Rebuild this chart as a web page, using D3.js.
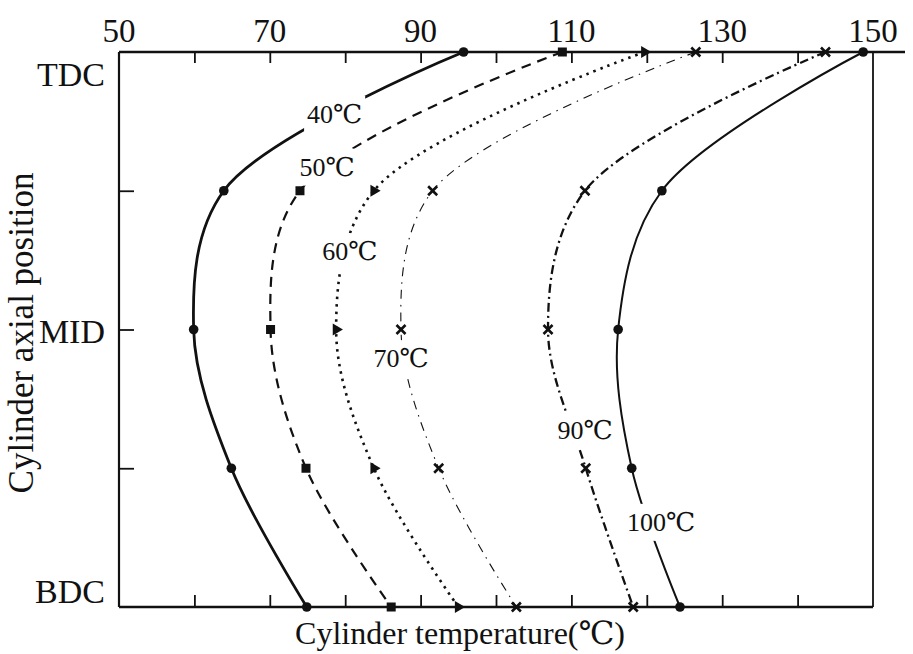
<!DOCTYPE html>
<html>
<head>
<meta charset="utf-8">
<title>Cylinder temperature</title>
<script src="https://d3js.org/d3.v7.min.js"></script>
<style>
    body { margin: 0; background: #fff; }
    text { font-family: "Liberation Serif", "DejaVu Serif", serif; fill: #111; }
</style>
</head>
<body>
<div id="chart"></div>
<script>
// axial positions, top to bottom
var positions = ["TDC", "", "MID", "", "BDC"];
var posLabels = ["TDC", "MID", "BDC"];
var xTickLabels = [50, 70, 90, 110, 130, 150];

// cylinder temperature at each axial position, per coolant temperature
var temps40 = [95.7, 63.9, 59.9, 64.9, 74.9];
var temps50 = [108.8, 74.0, 70.1, 74.8, 86.1];
var temps60 = [119.7, 83.8, 78.8, 83.8, 95.0];
var temps70 = [126.5, 91.6, 87.4, 92.4, 102.7];
var temps90 = [143.7, 111.8, 106.9, 111.9, 118.2];
var temps100 = [148.7, 122.0, 116.2, 118.0, 124.4];
var seriesNames = ["40℃", "50℃", "60℃", "70℃", "90℃", "100℃"];

// where each curve label sits (temperature, axial index)
var labelTemp = [78.6, 77.6, 80.6, 87.4, 111.8, 121.9];
var labelPos = [0.45, 0.83, 1.44, 2.21, 2.73, 3.39];

var W = 913, H = 654;
var plotL = 119, plotR = 873, plotT = 52, plotB = 607;

var svg = d3.select("#chart").append("svg")
    .attr("width", W)
    .attr("height", H);

var x = d3.scaleLinear().domain([50, 150]).range([plotL, plotR]);
var y = d3.scaleLinear().domain([0, positions.length - 1]).range([plotT, plotB]);

// frame
svg.append("line").attr("x1", plotL).attr("x2", 905).attr("y1", plotT).attr("y2", plotT)
    .attr("stroke", "#111").attr("stroke-width", 2.6);
svg.append("line").attr("x1", plotL).attr("x2", plotR).attr("y1", plotB).attr("y2", plotB)
    .attr("stroke", "#111").attr("stroke-width", 2.4);
svg.append("line").attr("x1", plotL).attr("x2", plotL).attr("y1", plotT).attr("y2", plotB)
    .attr("stroke", "#111").attr("stroke-width", 2.2);
svg.append("line").attr("x1", plotR).attr("x2", plotR).attr("y1", plotT).attr("y2", plotB)
    .attr("stroke", "#111").attr("stroke-width", 1.8);

// top axis, ticks inward
var topAxis = d3.axisTop(x)
    .tickValues(d3.range(60, 150, 10))
    .tickSizeInner(-11).tickSizeOuter(0)
    .tickFormat("");
var gTop = svg.append("g").attr("transform", "translate(0," + plotT + ")").call(topAxis);
gTop.select(".domain").remove();
gTop.selectAll("line").attr("stroke", "#111").attr("stroke-width", 1.8);

svg.selectAll(".xlab")
    .data(xTickLabels)
    .enter().append("text")
    .attr("x", function(d) { return x(d); })
    .attr("y", 42)
    .attr("text-anchor", "middle")
    .style("font-size", "33px")
    .text(function(d) { return d; });

// bottom axis, ticks inward
var bottomAxis = d3.axisBottom(x)
    .tickValues(d3.range(60, 150, 10))
    .tickSizeInner(-12).tickSizeOuter(0)
    .tickFormat("");
var gBot = svg.append("g").attr("transform", "translate(0," + plotB + ")").call(bottomAxis);
gBot.select(".domain").remove();
gBot.selectAll("line").attr("stroke", "#111").attr("stroke-width", 1.8);

// left axis ticks at the quarter positions
var leftAxis = d3.axisLeft(y)
    .tickValues([1, 2, 3])
    .tickSizeInner(-15).tickSizeOuter(0)
    .tickFormat("");
var gLeft = svg.append("g").attr("transform", "translate(" + plotL + ",0)").call(leftAxis);
gLeft.select(".domain").remove();
gLeft.selectAll("line").attr("stroke", "#111").attr("stroke-width", 1.8);

// TDC / MID / BDC labels
var posY = [y(0) + 22, y(2) + 2, y(4) - 16];
svg.selectAll(".ylab")
    .data(posLabels)
    .enter().append("text")
    .attr("x", 105)
    .attr("y", function(d, i) { return posY[i]; })
    .attr("text-anchor", "end")
    .attr("dominant-baseline", "central")
    .style("font-size", "34px")
    .text(function(d) { return d; });

// axis titles
svg.append("text")
    .attr("transform", "translate(33," + 333 + ") rotate(-90)")
    .attr("text-anchor", "middle")
    .style("font-size", "35px")
    .text("Cylinder axial position");

svg.append("text")
    .attr("x", 460)
    .attr("y", 644)
    .attr("text-anchor", "middle")
    .style("font-size", "32px")
    .text("Cylinder temperature(℃)");

// curves
var allTemps = [temps40, temps50, temps60, temps70, temps90, temps100];
var styles = [
    { width: 2.8, dash: null, marker: "circle" },
    { width: 2.2, dash: "10,7", marker: "square" },
    { width: 2.6, dash: "2.5,5", marker: "triangle" },
    { width: 1.1, dash: "9,6,1.5,6", marker: "cross" },
    { width: 2.3, dash: "9,4,2,4", marker: "cross" },
    { width: 2.0, dash: null, marker: "circle" }
];

var line = d3.line()
    .x(function(d) { return x(d); })
    .y(function(d, i) { return y(i); })
    .curve(d3.curveCatmullRom.alpha(0.5));

allTemps.forEach(function(vals, k) {
    var st = styles[k];
    svg.append("path")
        .datum(vals)
        .attr("d", line)
        .attr("fill", "none")
        .attr("stroke", "#111")
        .attr("stroke-width", st.width)
        .attr("stroke-dasharray", st.dash);
});

// curve labels over white patches
seriesNames.forEach(function(name, k) {
    var cx = x(labelTemp[k]), cy = y(labelPos[k]);
    var t = svg.append("text")
        .attr("x", cx)
        .attr("y", cy)
        .attr("text-anchor", "middle")
        .attr("dominant-baseline", "central")
        .style("font-size", "26px")
        .text(name);
    var bb = t.node().getBBox();
    svg.insert("rect", function() { return t.node(); })
        .attr("x", bb.x - 3).attr("y", bb.y - 4)
        .attr("width", bb.width + 6).attr("height", bb.height + 8)
        .attr("fill", "#fff");
});

// markers
allTemps.forEach(function(vals, k) {
    var st = styles[k];
    var g = svg.append("g");
    vals.forEach(function(v, i) {
        var px = x(v), py = y(i);
        if (st.marker === "circle") {
            g.append("circle").attr("cx", px).attr("cy", py).attr("r", 4.8).attr("fill", "#111");
        } else if (st.marker === "square") {
            g.append("rect").attr("x", px - 4.5).attr("y", py - 4.5)
                .attr("width", 9).attr("height", 9).attr("fill", "#111");
        } else if (st.marker === "triangle") {
            g.append("path")
                .attr("d", d3.symbol().type(d3.symbolTriangle).size(60))
                .attr("transform", "translate(" + px + "," + py + ") rotate(90)")
                .attr("fill", "#111");
        } else {
            g.append("path")
                .attr("d", d3.symbol().type(d3.symbolTimes).size(55))
                .attr("transform", "translate(" + px + "," + py + ")")
                .attr("fill", "none")
                .attr("stroke", "#111")
                .attr("stroke-width", 2.6);
        }
    });
});
</script>
</body>
</html>
